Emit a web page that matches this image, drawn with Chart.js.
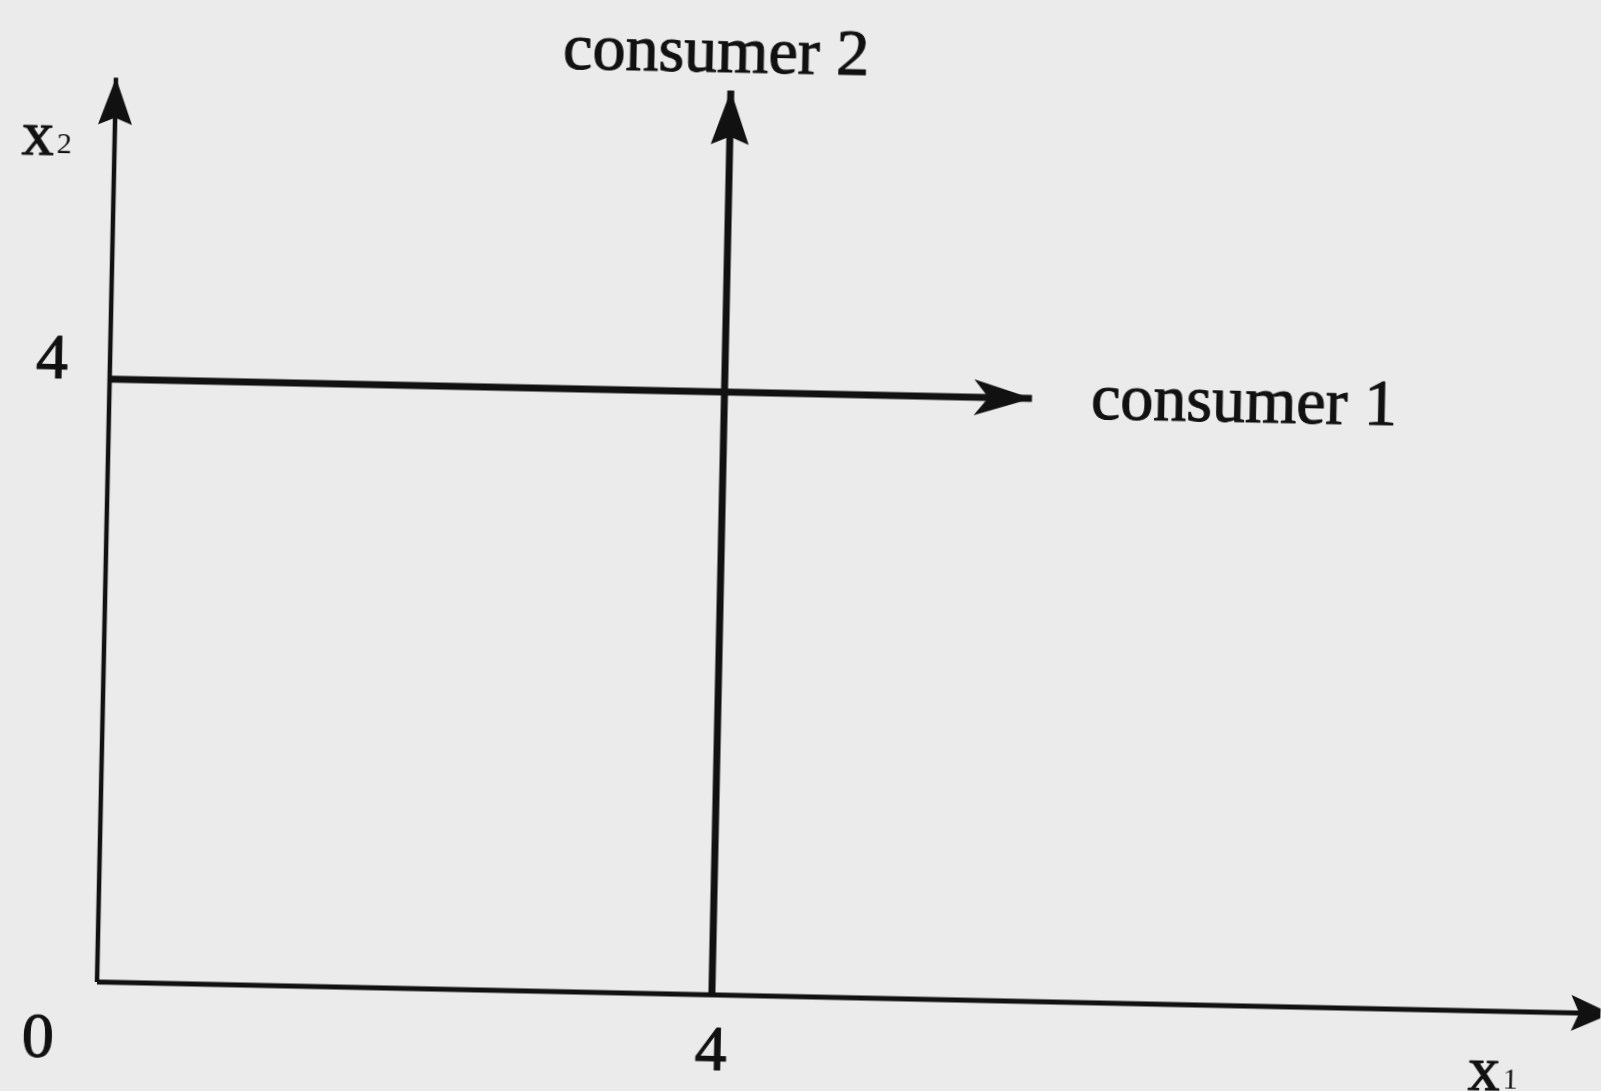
<!DOCTYPE html>
<html><head><meta charset="utf-8">
<script src="https://cdn.jsdelivr.net/npm/chart.js@4/dist/chart.umd.min.js"></script>
<style>
html,body{margin:0;padding:0;background:#ebebeb;overflow:hidden;width:1601px;height:1091px}
#wrap{position:absolute;left:0;top:0;width:1601px;height:1091px;transform-origin:97px 982px;transform:rotate(1.2deg)}
canvas{display:block}
</style></head><body>
<div id="wrap"><canvas id="c" width="1601" height="1091"></canvas></div>
<script>
// ---- data (diagram values, in goods units) ----
const x1AxisX = [0, 9.85];
const x1AxisY = [0, 0];
const x2AxisX = [0, 0];
const x2AxisY = [0, 6];
const consumer1X = [0, 6];
const consumer1Y = [4, 4];
const consumer2X = [4, 4];
const consumer2Y = [0, 6];
const xTickValues = [4];
const xTickLabels = ['4'];
const yTickValues = [4];
const yTickLabels = ['4'];
const originLabel = '0';
const seriesNames = ['consumer 1', 'consumer 2'];
const axisNames = [['x', '1'], ['x', '2']];

const pts = (xs, ys) => xs.map((x, i) => ({x: x, y: ys[i]}));
const INK = '#111111';
const FONT = '"Liberation Serif", "Times New Roman", serif';

const arrowPlugin = {
  id: 'arrows',
  afterDatasetsDraw(chart) {
    const ctx = chart.ctx;
    chart.data.datasets.forEach((ds, i) => {
      if (!ds.arrow) return;
      const meta = chart.getDatasetMeta(i);
      const n = meta.data.length;
      const a = meta.data[n - 2], b = meta.data[n - 1];
      let ux = b.x - a.x, uy = b.y - a.y;
      const len = Math.hypot(ux, uy); ux /= len; uy /= len;
      const nx = -uy, ny = ux;
      const L = ds.arrow.L, W = ds.arrow.W, k = ds.arrow.k;
      ctx.save();
      ctx.fillStyle = INK;
      ctx.beginPath();
      ctx.moveTo(b.x, b.y);
      ctx.lineTo(b.x - ux * L + nx * W, b.y - uy * L + ny * W);
      ctx.lineTo(b.x - ux * L * k, b.y - uy * L * k);
      ctx.lineTo(b.x - ux * L - nx * W, b.y - uy * L - ny * W);
      ctx.closePath();
      ctx.fill();
      ctx.restore();
    });
  }
};

const textPlugin = {
  id: 'texts',
  afterDraw(chart) {
    const ctx = chart.ctx;
    const xs = chart.scales.x, ys = chart.scales.y;
    const ox = xs.getPixelForValue(0), oy = ys.getPixelForValue(0);
    ctx.save();
    ctx.fillStyle = INK;
    ctx.strokeStyle = INK;
    ctx.lineWidth = 1.1;
    ctx.lineJoin = 'round';
    ctx.textBaseline = 'alphabetic';
    ctx.textAlign = 'center';
    const put = (t, px, py, size) => {
      ctx.font = size + 'px ' + FONT;
      ctx.fillText(t, px, py);
      ctx.strokeText(t, px, py);
    };
    // tick labels
    xTickValues.forEach((v, i) => put(xTickLabels[i], xs.getPixelForValue(v), oy + 75, 64));
    yTickValues.forEach((v, i) => put(yTickLabels[i], ox - 58, ys.getPixelForValue(v), 64));
    put(originLabel, ox - 58, oy + 76, 64);
    // series labels
    put(seriesNames[0], xs.getPixelForValue(7.38), ys.getPixelForValue(3.874), 66);
    put(seriesNames[1], xs.getPixelForValue(3.90), ys.getPixelForValue(6.123), 66);
    // axis names with subscripts
    const axisName = (pair, px, py) => {
      ctx.textAlign = 'left';
      ctx.font = '64px ' + FONT;
      const w = ctx.measureText(pair[0]).width;
      ctx.fillText(pair[0], px, py);
      ctx.strokeText(pair[0], px, py);
      ctx.font = '30px ' + FONT;
      ctx.fillText(pair[1], px + w + 3, py - 2);
      ctx.textAlign = 'center';
    };
    axisName(axisNames[0], xs.getPixelForValue(9.03) - 16, oy + 79);
    axisName(axisNames[1], xs.getPixelForValue(-0.5) - 16, ys.getPixelForValue(5.48));
    ctx.restore();
  }
};

const bgPlugin = {
  id: 'bg',
  beforeDraw(chart) {
    const ctx = chart.ctx;
    ctx.save();
    ctx.fillStyle = '#ebebeb';
    ctx.fillRect(0, 0, chart.width, chart.height);
    ctx.restore();
  }
};

const lineDs = (label, data, w, arrow) => ({
  label, data, showLine: true, borderColor: INK, backgroundColor: INK,
  borderWidth: w, pointRadius: 0, tension: 0, fill: false, borderCapStyle: 'butt', arrow
});

new Chart(document.getElementById('c'), {
  type: 'scatter',
  data: {
    datasets: [
      lineDs('x1 axis', pts(x1AxisX, x1AxisY), 5, {L: 40, W: 18, k: 0.8}),
      lineDs('x2 axis', pts(x2AxisX, x2AxisY), 4.5, {L: 47, W: 17, k: 0.85}),
      lineDs(seriesNames[0], pts(consumer1X, consumer1Y), 7, {L: 58, W: 18, k: 0.75}),
      lineDs(seriesNames[1], pts(consumer2X, consumer2Y), 7, {L: 54, W: 19, k: 0.85})
    ]
  },
  options: {
    responsive: false,
    animation: false,
    devicePixelRatio: 1,
    layout: {padding: 0},
    plugins: {legend: {display: false}, tooltip: {enabled: false}, title: {display: false}},
    scales: {
      x: {type: 'linear', display: false, min: -0.631, max: 9.782},
      y: {type: 'linear', display: false, min: -0.723, max: 6.514}
    }
  },
  plugins: [bgPlugin, arrowPlugin, textPlugin]
});
</script>
</body></html>
